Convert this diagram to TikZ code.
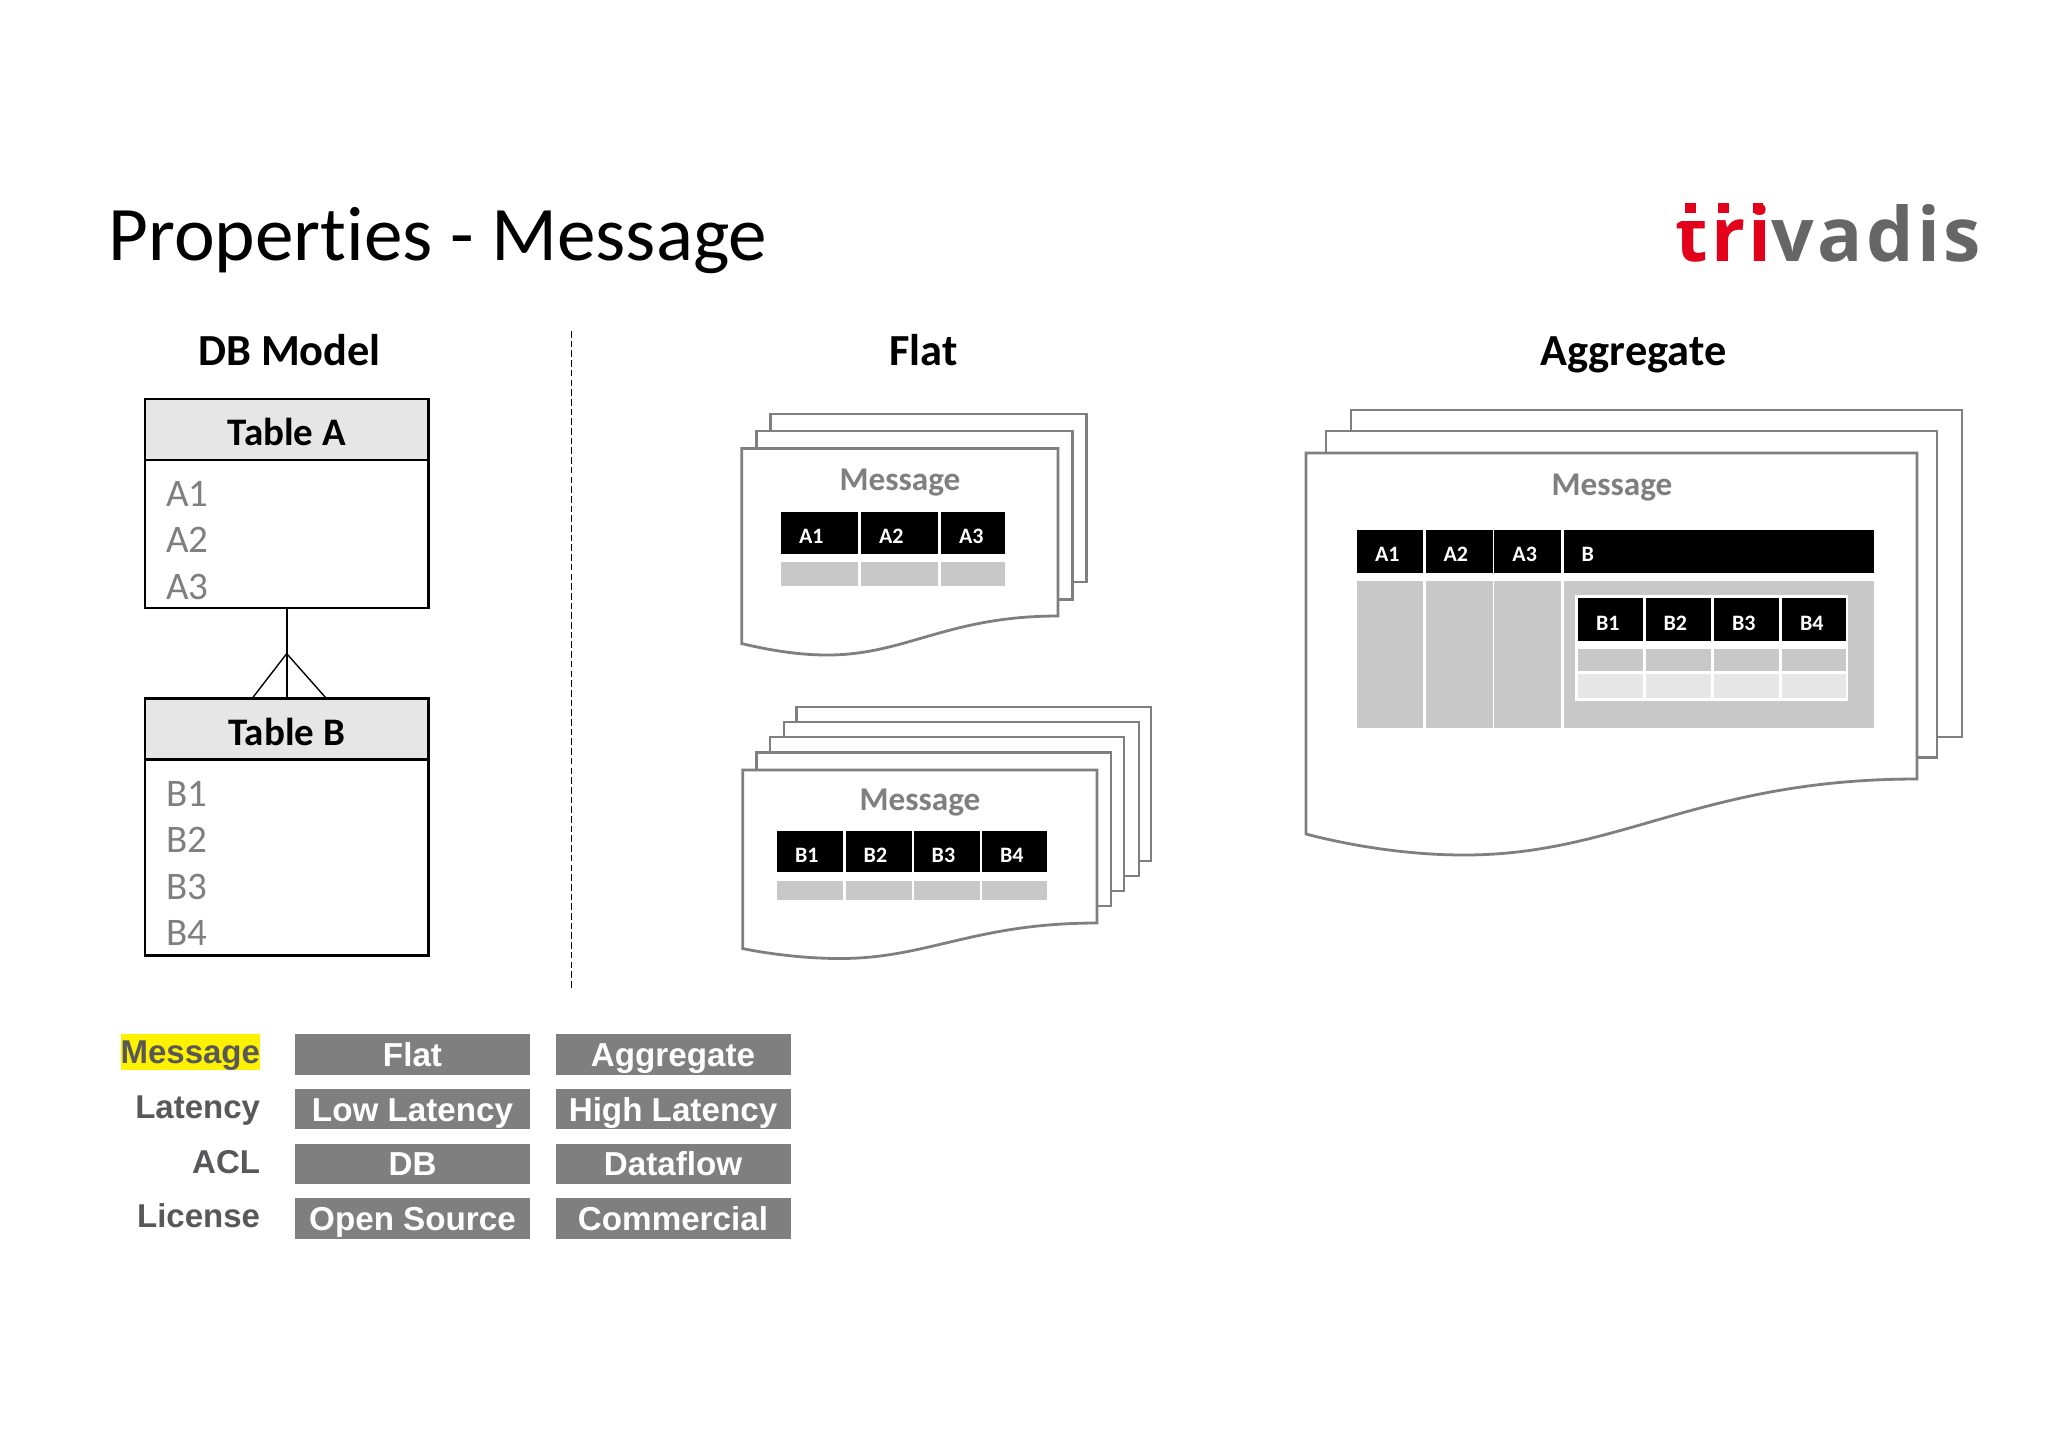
\documentclass[tikz,border=0pt]{standalone}
\usepackage{fontspec}
\setmainfont[Ligatures=NoCommon]{Carlito}
\newfontfamily\arialfont{Liberation Sans}
\newfontfamily\logofont[LetterSpace=4.5]{Open Sans}
\usetikzlibrary{positioning}
\definecolor{sheetgray}{HTML}{7F7F7F}
\definecolor{cellgray}{HTML}{C8C8C8}
\definecolor{lightgray}{HTML}{E6E6E6}
\definecolor{labelgray}{HTML}{58585A}
\definecolor{logored}{HTML}{E2001A}
\definecolor{logogray}{HTML}{666666}

\begin{document}
\begin{tikzpicture}[x=0.5pt,y=-0.5pt,node distance=7.15pt and 12.75pt,
sheet/.style={draw=sheetgray,fill=white,line width=1.4pt},
heading/.style={text height=15.2pt,text depth=0pt,font=\bfseries\fontsize{22.2}{26}\selectfont},
tablehead/.style={draw,line width=1.3pt,fill=lightgray,minimum width=141.8pt,minimum height=30.4pt,inner sep=0pt,outer sep=0pt,text height=16pt,text depth=0pt,font=\bfseries\fontsize{19.5}{23}\selectfont},
tablebody/.style={draw,line width=1.3pt,fill=white,minimum width=141.8pt,inner sep=0pt,outer sep=0pt},
fieldlist/.style={anchor=north west,align=left,inner sep=0pt,text=sheetgray,font=\fontsize{19.5}{23.2}\selectfont},
msgtitle/.style={text=sheetgray,text depth=0pt,font=\bfseries\fontsize{16.6}{20}\selectfont},
headcell/.style={anchor=north west,fill=black,text=white,inner xsep=0pt,inner ysep=0pt,outer sep=0pt,align=left,text height=10.5pt,text depth=0pt,font=\bfseries\fontsize{11}{13}\selectfont,execute at begin node=\hspace*{9pt}},
graycell/.style={anchor=north west,fill=cellgray,inner sep=0pt,outer sep=0pt},
palecell/.style={anchor=north west,fill=lightgray,inner sep=0pt,outer sep=0pt},
choice/.style={fill=sheetgray,text=white,minimum width=117.5pt,minimum height=20.2pt,inner sep=0pt,outer sep=0pt,text height=12pt,text depth=0pt,font=\arialfont\bfseries\fontsize{16.6}{20}\selectfont},
rowname/.style={inner sep=0pt,outer sep=0pt,text=labelgray,text height=11.9pt,text depth=0pt,font=\arialfont\bfseries\fontsize{16.5}{20}\selectfont}]
\useasboundingbox (0,0) rectangle (2048,1447);
% title and logo
\node[anchor=west,inner sep=0pt,text depth=0pt,font=\fontsize{38.6}{44}\selectfont] (title) at (108,234) {Properties - Message};
\node[anchor=base west,inner sep=0pt,font=\logofont\bfseries\fontsize{37.5}{44}\selectfont] (logo) at (1675,261) {\textcolor{logored}{tri}\textcolor{logogray}{vadis}};
\fill[white] (1680,195) rectangle (1705,221);
\fill[logored] (1685,203) rectangle (1696,213);
\fill[logored] (1718,203) rectangle (1729,213);
\fill[logored] (1753,203) rectangle (1763,213);
% column headings
\node[heading] (dbmodel) at (289.5,350) {DB Model};
\node[heading] (flat) at (923.5,350) {Flat};
\node[heading] (aggregate) at (1633.5,350) {Aggregate};
\coordinate (sepT) at (571,331);
\coordinate (sepB) at (571,988);
\draw[dash pattern=on 3.3pt off 1.55pt,line width=0.5pt] (sepT)--(sepB);
% db model
\node[tablehead,anchor=north west] (headA) at (145,399) {Table A};
\node[tablebody,below=0pt of headA,minimum height=74.05pt] (bodyA) {};
\node[fieldlist] (fieldsA) at (166,481) {A1\\A2\\A3};
\node[tablehead,anchor=north west] (headB) at (145,698.6) {Table B};
\node[tablebody,below=0pt of headB,minimum height=98.05pt] (bodyB) {};
\node[fieldlist] (fieldsB) at (166,781) {B1\\B2\\B3\\B4};
\coordinate (fork) at (286.7,653.6);
\coordinate (footL) at (252,698.6);
\coordinate (footR) at (326.5,698.6);
\draw[line width=0.7pt] (bodyA.south)--(headB.north);
\draw[line width=0.7pt] (footL)--(fork)--(footR);
% flat, table a
\draw[sheet] (770.7,414) rectangle (1086.7,582);
\draw[sheet] (756.7,431) rectangle (1072.7,599.6);
\draw[sheet] (741.7,448.4)--(1058,448.4)--(1058,616) .. controls (947,616) and (906,655) .. (827,655) .. controls (795,655) and (765,649) .. (741.7,643.6)--cycle;
\node[msgtitle] (msgA) at (900,480) {Message};
\node[headcell,text width=38.5pt,minimum height=21pt] (flatA1) at (781,511.5) {A1};
\node[headcell,text width=38.5pt,minimum height=21pt] (flatA2) at (861,511.5) {A2};
\node[headcell,text width=32pt,minimum height=21pt] (flatA3) at (941,511.5) {A3};
\node[graycell,minimum width=38.5pt,minimum height=12pt] (rowA1) at (781,561.5) {};
\node[graycell,minimum width=38.5pt,minimum height=12pt] (rowA2) at (861,561.5) {};
\node[graycell,minimum width=32pt,minimum height=12pt] (rowA3) at (941,561.5) {};
% flat, table b
\draw[sheet] (796.7,707) rectangle (1151,861);
\draw[sheet] (784,722) rectangle (1139,876);
\draw[sheet] (770,737) rectangle (1124,891);
\draw[sheet] (756.7,752.7) rectangle (1111,906);
\draw[sheet] (742.7,770)--(1097,770)--(1097,923) .. controls (974,923) and (928,958.5) .. (840,958.5) .. controls (805,958.5) and (770,954) .. (742.7,948.6)--cycle;
\node[msgtitle] (msgB) at (920,799.5) {Message};
\node[headcell,text width=33pt,minimum height=20.5pt] (flatB1) at (777,831) {B1};
\node[headcell,text width=33pt,minimum height=20.5pt] (flatB2) at (845.7,831) {B2};
\node[headcell,text width=33pt,minimum height=20.5pt] (flatB3) at (913.7,831) {B3};
\node[headcell,text width=32.5pt,minimum height=20.5pt] (flatB4) at (982,831) {B4};
\node[graycell,minimum width=33pt,minimum height=9.5pt] (rowB1) at (777,881) {};
\node[graycell,minimum width=33pt,minimum height=9.5pt] (rowB2) at (845.7,881) {};
\node[graycell,minimum width=33pt,minimum height=9.5pt] (rowB3) at (913.7,881) {};
\node[graycell,minimum width=32.5pt,minimum height=9.5pt] (rowB4) at (982,881) {};
% aggregate
\draw[sheet] (1351,410) rectangle (1962,737);
\draw[sheet] (1326,431) rectangle (1937,757.7);
\draw[sheet] (1306,453)--(1917,453)--(1917,779) .. controls (1700,779) and (1620,855) .. (1464,855) .. controls (1400,855) and (1340,843) .. (1306,834)--cycle;
\node[msgtitle] (msgC) at (1612,484.5) {Message};
\node[headcell,text width=33pt,minimum height=21.75pt] (aggA1) at (1357,529.5) {A1};
\node[headcell,text width=33.5pt,minimum height=21.75pt] (aggA2) at (1425.5,529.5) {A2};
\node[headcell,text width=33.3pt,minimum height=21.75pt] (aggA3) at (1494.4,529.5) {A3};
\node[headcell,text width=155pt,minimum height=21.75pt] (aggB) at (1563.7,529.5) {B};
\node[graycell,minimum width=33pt,minimum height=73.5pt] (colA1) at (1357,581) {};
\node[graycell,minimum width=33.5pt,minimum height=73.5pt] (colA2) at (1425.5,581) {};
\node[graycell,minimum width=33.3pt,minimum height=73.5pt] (colA3) at (1494.4,581) {};
\node[graycell,minimum width=155pt,minimum height=73.5pt] (colB) at (1563.7,581) {};
\node[anchor=north west,fill=white,inner sep=0pt,outer sep=0pt,minimum width=136.8pt,minimum height=53pt] (inner) at (1574.8,595) {};
\node[headcell,text width=32.5pt,minimum height=21.5pt] (innerB1) at (1578,598) {B1};
\node[headcell,text width=32.75pt,minimum height=21.5pt] (innerB2) at (1645.5,598) {B2};
\node[headcell,text width=32.5pt,minimum height=21.5pt] (innerB3) at (1714,598) {B3};
\node[headcell,text width=32pt,minimum height=21.5pt] (innerB4) at (1782,598) {B4};
\node[graycell,minimum width=32.5pt,minimum height=11pt] (midB1) at (1578,649) {};
\node[graycell,minimum width=32.75pt,minimum height=11pt] (midB2) at (1645.5,649) {};
\node[graycell,minimum width=32.5pt,minimum height=11pt] (midB3) at (1714,649) {};
\node[graycell,minimum width=32pt,minimum height=11pt] (midB4) at (1782,649) {};
\node[palecell,minimum width=32.5pt,minimum height=12pt] (lowB1) at (1578,674) {};
\node[palecell,minimum width=32.75pt,minimum height=12pt] (lowB2) at (1645.5,674) {};
\node[palecell,minimum width=32.5pt,minimum height=12pt] (lowB3) at (1714,674) {};
\node[palecell,minimum width=32pt,minimum height=12pt] (lowB4) at (1782,674) {};
% legend
\node[choice,anchor=north west] (optFlat) at (295,1034.3) {Flat};
\node[choice,right=of optFlat] (optAgg) {Aggregate};
\node[choice,below=of optFlat] (optLow) {Low Latency};
\node[choice,right=of optLow] (optHigh) {High Latency};
\node[choice,below=of optLow] (optDb) {DB};
\node[choice,right=of optDb] (optDataflow) {Dataflow};
\node[choice,below=of optDb] (optOpen) {Open Source};
\node[choice,right=of optOpen] (optComm) {Commercial};
\node[rowname,left=17.5pt of optFlat,yshift=1.4pt,fill=yellow,minimum height=18pt] (rowMessage) {Message};
\node[rowname,left=17.5pt of optLow,yshift=1.4pt] (rowLatency) {Latency};
\node[rowname,left=17.5pt of optDb,yshift=1.4pt] (rowAcl) {ACL};
\node[rowname,left=17.5pt of optOpen,yshift=1.4pt] (rowLicense) {License};
\end{tikzpicture}
\end{document}
